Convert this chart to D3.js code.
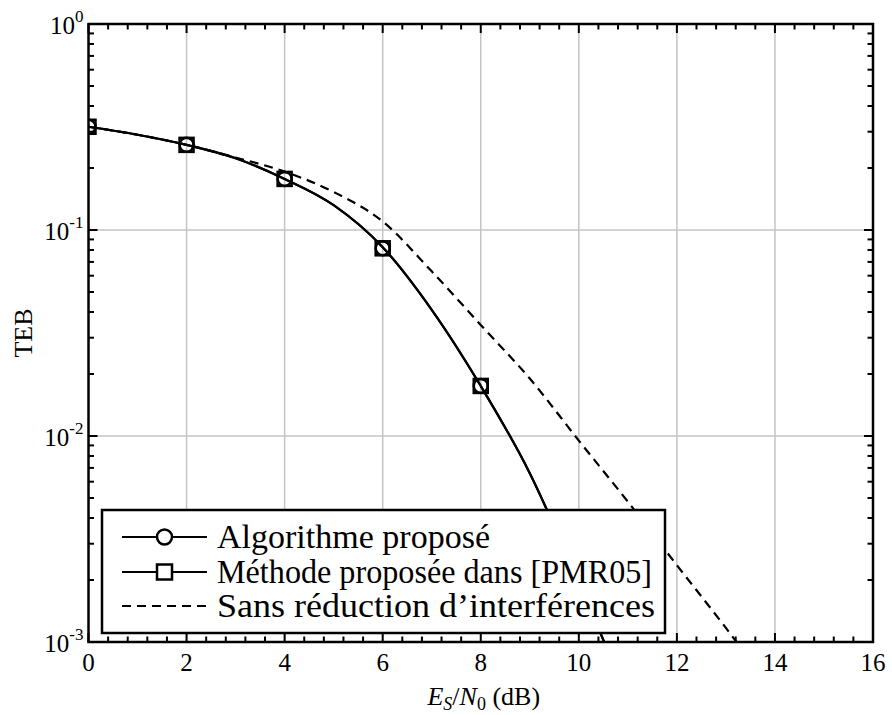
<!DOCTYPE html>
<html>
<head>
<meta charset="utf-8">
<script src="https://cdn.jsdelivr.net/npm/d3@7"></script>
<style>
  body { margin: 0; background: #fff; }
  svg text { font-family: "Liberation Serif", "Times New Roman", serif; fill: #000; }
</style>
</head>
<body>
<div id="chart"></div>
<script>
// --- data ---
const snrDb = [0, 1, 2, 3, 4, 5, 6, 7, 8, 9, 10, 11];
const tebAlgo = [0.317, 0.29, 0.259, 0.223, 0.177, 0.132, 0.0825, 0.041, 0.0175, 0.0066, 0.00194, 0.00054];
const tebPmr = [0.317, 0.29, 0.259, 0.223, 0.177, 0.132, 0.0825, 0.041, 0.0175, 0.0066, 0.00194, 0.00054];
const snrDbSans = [0, 1, 2, 3, 4, 5, 6, 7, 8, 9, 10, 11, 12, 13, 14];
const tebSans = [0.317, 0.29, 0.259, 0.225, 0.192, 0.153, 0.11, 0.063, 0.0346, 0.019, 0.0095, 0.0048, 0.00236, 0.00117, 0.00056];
const markerSnr = [0, 2, 4, 6, 8];
const markerAlgo = [0.317, 0.259, 0.177, 0.0815, 0.0175];
const markerPmr = [0.317, 0.259, 0.177, 0.0815, 0.0175];
const xTicks = [0, 2, 4, 6, 8, 10, 12, 14, 16];
const yDecades = [0, -1, -2, -3];
const legendLabels = ["Algorithme proposé", "Méthode proposée dans [PMR05]", "Sans réduction d\u2019interférences"];

const W = 892, H = 715;
const margin = { top: 24, right: 19, bottom: 73, left: 88.5 };
const iw = W - margin.left - margin.right;
const ih = H - margin.top - margin.bottom;

const svg = d3.select("#chart").append("svg")
    .attr("width", W).attr("height", H);

const g = svg.append("g")
    .attr("transform", `translate(${margin.left},${margin.top})`);

const x = d3.scaleLinear().domain([0, 16]).range([0, iw]);
const y = d3.scaleLog().domain([1e-3, 1]).range([ih, 0]);

g.append("clipPath").attr("id", "plot-clip")
    .append("rect").attr("width", iw).attr("height", ih);

// Grid
const grid = g.append("g").attr("stroke", "#c4c4c4").attr("stroke-width", 1.5);
xTicks.slice(1, -1).forEach(t => {
    grid.append("line").attr("x1", x(t)).attr("x2", x(t)).attr("y1", 0).attr("y2", ih);
});
yDecades.slice(1, -1).forEach(e => {
    grid.append("line").attr("x1", 0).attr("x2", iw).attr("y1", y(Math.pow(10, e))).attr("y2", y(Math.pow(10, e)));
});

// Ticks (inside, all four sides)
const xMinor = d3.range(0, 16.001, 0.4).filter(v => Math.abs(v / 2 - Math.round(v / 2)) > 1e-6);
const yMinor = [];
[-3, -2, -1].forEach(e => { for (let k = 2; k <= 9; k++) yMinor.push(k * Math.pow(10, e)); });

const ticks = g.append("g").attr("stroke", "#000").attr("stroke-width", 2);
const majLen = 9, minLen = 5.5;
xTicks.forEach(t => {
    ticks.append("line").attr("x1", x(t)).attr("x2", x(t)).attr("y1", ih).attr("y2", ih - majLen);
    ticks.append("line").attr("x1", x(t)).attr("x2", x(t)).attr("y1", 0).attr("y2", majLen);
});
xMinor.forEach(t => {
    ticks.append("line").attr("x1", x(t)).attr("x2", x(t)).attr("y1", ih).attr("y2", ih - minLen);
    ticks.append("line").attr("x1", x(t)).attr("x2", x(t)).attr("y1", 0).attr("y2", minLen);
});
yDecades.forEach(e => {
    const v = y(Math.pow(10, e));
    ticks.append("line").attr("x1", 0).attr("x2", majLen).attr("y1", v).attr("y2", v);
    ticks.append("line").attr("x1", iw).attr("x2", iw - majLen).attr("y1", v).attr("y2", v);
});
yMinor.forEach(m => {
    const v = y(m);
    ticks.append("line").attr("x1", 0).attr("x2", minLen).attr("y1", v).attr("y2", v);
    ticks.append("line").attr("x1", iw).attr("x2", iw - minLen).attr("y1", v).attr("y2", v);
});

// Curves
const plot = g.append("g").attr("clip-path", "url(#plot-clip)");
const line = d3.line()
    .x(d => x(d[0])).y(d => y(d[1]))
    .curve(d3.curveMonotoneX);

plot.append("path").datum(d3.zip(snrDbSans, tebSans))
    .attr("d", line).attr("fill", "none").attr("stroke", "#000")
    .attr("stroke-width", 2.2).attr("stroke-dasharray", "9,6");
plot.append("path").datum(d3.zip(snrDb, tebPmr))
    .attr("d", line).attr("fill", "none").attr("stroke", "#000").attr("stroke-width", 2.2);
plot.append("path").datum(d3.zip(snrDb, tebAlgo))
    .attr("d", line).attr("fill", "none").attr("stroke", "#000").attr("stroke-width", 2.2);

// Markers
plot.selectAll(".m-circ").data(d3.zip(markerSnr, markerAlgo)).enter()
    .append("circle").attr("class", "m-circ")
    .attr("cx", d => x(d[0])).attr("cy", d => y(d[1])).attr("r", 7)
    .attr("fill", "none").attr("stroke", "#000").attr("stroke-width", 2.5);
plot.selectAll(".m-sq").data(d3.zip(markerSnr, markerPmr)).enter()
    .append("rect").attr("class", "m-sq")
    .attr("x", d => x(d[0]) - 7).attr("y", d => y(d[1]) - 7)
    .attr("width", 14).attr("height", 14)
    .attr("fill", "none").attr("stroke", "#000").attr("stroke-width", 2.5);

// Frame
g.append("rect").attr("width", iw).attr("height", ih)
    .attr("fill", "none").attr("stroke", "#000").attr("stroke-width", 2.5);

// Tick labels
xTicks.forEach(t => {
    g.append("text").attr("x", x(t)).attr("y", ih + 29)
        .attr("text-anchor", "middle").style("font-size", "25px").text(t);
});
yDecades.forEach(e => {
    const tx = g.append("text").attr("x", -5).attr("y", y(Math.pow(10, e)) + 10)
        .attr("text-anchor", "end").style("font-size", "25px");
    tx.append("tspan").text("10");
    tx.append("tspan").attr("dy", -12).style("font-size", "17px").text(e === 0 ? "0" : "-" + Math.abs(e));
});

// Axis labels
const xl = svg.append("text").attr("x", margin.left + iw / 2 + 3).attr("y", 705)
    .attr("text-anchor", "middle").style("font-size", "26px");
xl.append("tspan").style("font-style", "italic").text("E");
xl.append("tspan").attr("dy", 5).style("font-style", "italic").style("font-size", "18px").text("S");
xl.append("tspan").attr("dy", -5).text("/");
xl.append("tspan").style("font-style", "italic").text("N");
xl.append("tspan").attr("dy", 5).style("font-size", "18px").text("0");
xl.append("tspan").attr("dy", -5).text(" (dB)");

svg.append("text")
    .attr("transform", `translate(32,${margin.top + ih / 2}) rotate(-90)`)
    .attr("text-anchor", "middle").style("font-size", "26px").text("TEB");

// Legend
const lg = svg.append("g").attr("transform", "translate(102,510)");
lg.append("rect").attr("width", 563).attr("height", 123)
    .attr("fill", "#fff").attr("stroke", "#000").attr("stroke-width", 2.5);
const rowY = [27, 62, 96];
const labelWidth = [273, 435, 438]; // widths of the labels in the reference
legendLabels.forEach((lab, i) => {
    const row = lg.append("g").attr("transform", `translate(0,${rowY[i]})`);
    row.append("line").attr("x1", 20).attr("x2", 105).attr("y1", 0).attr("y2", 0)
        .attr("stroke", "#000").attr("stroke-width", 2.2)
        .attr("stroke-dasharray", i === 2 ? "9,6" : null);
    if (i === 0) {
        row.append("circle").attr("cx", 62.5).attr("cy", 0).attr("r", 7.5)
            .attr("fill", "#fff").attr("stroke", "#000").attr("stroke-width", 2.5);
    } else if (i === 1) {
        row.append("rect").attr("x", 55).attr("y", -7.5).attr("width", 15).attr("height", 15)
            .attr("fill", "#fff").attr("stroke", "#000").attr("stroke-width", 2.5);
    }
    row.append("text").attr("x", 115).attr("y", 11).style("font-size", "33px")
        .attr("textLength", labelWidth[i]).attr("lengthAdjust", "spacingAndGlyphs")
        .text(lab);
});
</script>
</body>
</html>
